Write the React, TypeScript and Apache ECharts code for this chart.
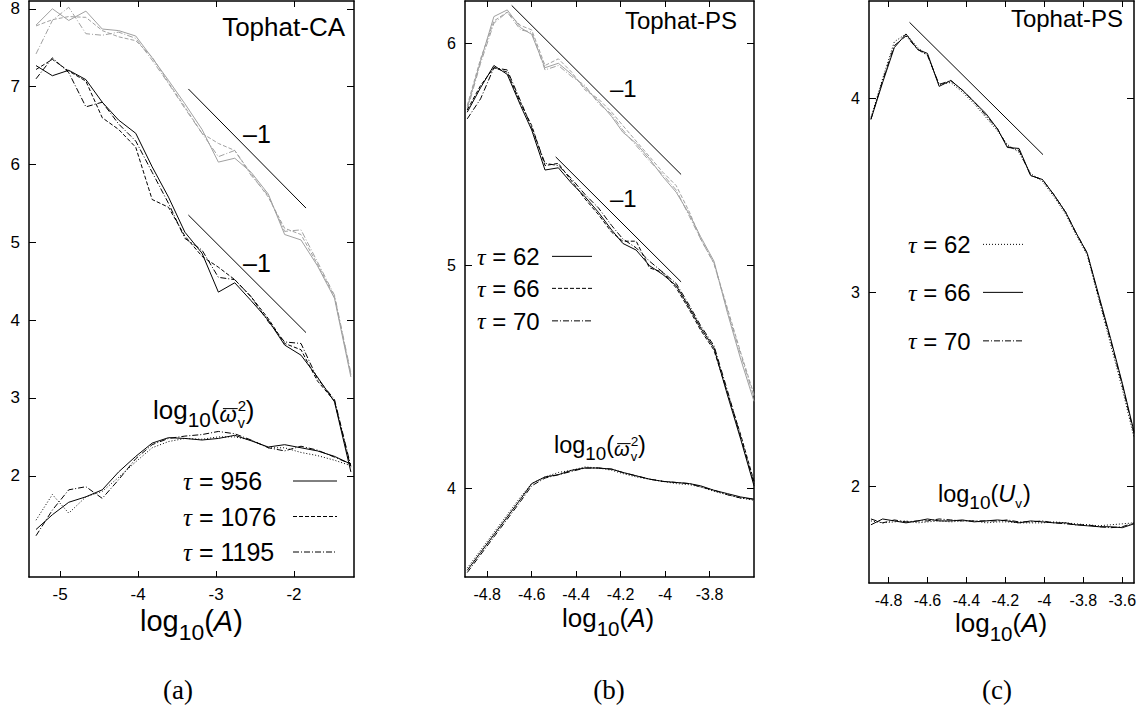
import React, { useEffect, useRef } from "react";
import * as echarts from "echarts";

// ---------------- data ----------------
// Panel (a): Tophat-CA
const X_A = [-5.31, -5.10, -4.89, -4.67, -4.46, -4.25, -4.03, -3.82, -3.61, -3.40, -3.18, -2.97, -2.76, -2.55, -2.33, -2.12, -1.91, -1.70, -1.48, -1.27];
const A_GRAY_956 = [7.79, 8.00, 7.85, 7.97, 7.74, 7.72, 7.65, 7.37, 7.08, 6.78, 6.45, 6.03, 6.08, 5.90, 5.62, 5.10, 5.03, 4.70, 4.28, 3.27];
const A_GRAY_1076 = [7.78, 7.86, 7.90, 7.89, 7.72, 7.64, 7.59, 7.38, 7.05, 6.74, 6.40, 6.27, 6.18, 5.88, 5.58, 5.18, 5.10, 4.72, 4.30, 3.30];
const A_GRAY_1195 = [7.42, 7.85, 8.02, 7.68, 7.66, 7.70, 7.62, 7.34, 7.04, 6.72, 6.40, 6.10, 6.18, 5.86, 5.60, 5.14, 5.16, 4.75, 4.32, 3.32];
const A_BLACK_956 = [7.27, 7.14, 7.21, 7.09, 6.80, 6.57, 6.40, 5.97, 5.58, 5.13, 4.86, 4.36, 4.48, 4.25, 4.00, 3.68, 3.55, 3.27, 2.95, 2.05];
const A_BLACK_1076 = [7.22, 7.35, 7.20, 7.07, 6.60, 6.45, 6.22, 5.55, 5.45, 5.08, 4.82, 4.68, 4.52, 4.30, 4.02, 3.70, 3.62, 3.22, 2.96, 2.10];
const A_BLACK_1195 = [7.10, 7.37, 7.18, 6.74, 6.80, 6.52, 6.30, 5.90, 5.50, 5.05, 4.90, 4.55, 4.52, 4.30, 3.98, 3.72, 3.70, 3.25, 2.98, 2.12];
const A_OMEGA_956 = [1.31, 1.50, 1.66, 1.73, 1.82, 2.05, 2.25, 2.42, 2.49, 2.48, 2.46, 2.48, 2.52, 2.45, 2.37, 2.40, 2.36, 2.32, 2.25, 2.15];
const A_OMEGA_1076 = [1.43, 1.76, 1.52, 1.73, 1.80, 1.98, 2.18, 2.36, 2.44, 2.48, 2.47, 2.50, 2.50, 2.46, 2.36, 2.36, 2.30, 2.26, 2.20, 2.13];
const A_OMEGA_1195 = [1.23, 1.56, 1.82, 1.86, 1.71, 1.95, 2.22, 2.40, 2.48, 2.51, 2.53, 2.57, 2.54, 2.46, 2.36, 2.32, 2.38, 2.33, 2.24, 2.15];
const A_SLOPE_UPPER = [[-3.355, 6.97], [-1.846, 5.44]];
const A_SLOPE_LOWER = [[-3.355, 5.35], [-1.846, 3.84]];
const A_X_TICKS = [-5, -4, -3, -2];
const A_Y_TICKS = [2, 3, 4, 5, 6, 7, 8];
const A_TAUS = ["956", "1076", "1195"];

// Panel (b): Tophat-PS
const X_B = [-4.89, -4.83, -4.77, -4.71, -4.65, -4.60, -4.54, -4.48, -4.42, -4.36, -4.30, -4.24, -4.19, -4.13, -4.07, -4.01, -3.95, -3.89, -3.84, -3.78, -3.72, -3.66, -3.60];
const B_GRAY_62 = [5.71, 5.92, 6.12, 6.15, 6.07, 6.04, 5.89, 5.91, 5.86, 5.80, 5.74, 5.67, 5.60, 5.55, 5.48, 5.40, 5.33, 5.23, 5.13, 5.02, 4.79, 4.58, 4.39];
const B_GRAY_66 = [5.72, 5.93, 6.10, 6.14, 6.08, 6.06, 5.90, 5.93, 5.87, 5.79, 5.75, 5.69, 5.63, 5.56, 5.49, 5.42, 5.36, 5.24, 5.12, 5.01, 4.81, 4.61, 4.42];
const B_GRAY_70 = [5.70, 5.91, 6.09, 6.14, 6.06, 6.05, 5.88, 5.90, 5.85, 5.81, 5.73, 5.68, 5.61, 5.54, 5.47, 5.41, 5.34, 5.22, 5.12, 5.01, 4.80, 4.60, 4.41];
const B_BLACK_62 = [5.69, 5.80, 5.90, 5.86, 5.72, 5.61, 5.43, 5.44, 5.37, 5.31, 5.24, 5.16, 5.10, 5.07, 5.00, 4.96, 4.91, 4.81, 4.72, 4.63, 4.42, 4.22, 4.01];
const B_BLACK_66 = [5.70, 5.81, 5.89, 5.87, 5.73, 5.63, 5.45, 5.46, 5.38, 5.30, 5.23, 5.15, 5.11, 5.11, 4.99, 4.97, 4.90, 4.80, 4.71, 4.62, 4.43, 4.24, 4.03];
const B_BLACK_70 = [5.66, 5.75, 5.89, 5.88, 5.74, 5.62, 5.46, 5.45, 5.39, 5.32, 5.26, 5.18, 5.12, 5.08, 5.02, 4.97, 4.92, 4.82, 4.73, 4.64, 4.44, 4.23, 4.02];
const B_OMEGA_62 = [3.63, 3.71, 3.79, 3.87, 3.95, 4.02, 4.05, 4.06, 4.08, 4.09, 4.09, 4.085, 4.07, 4.055, 4.04, 4.03, 4.025, 4.02, 4.01, 3.99, 3.975, 3.96, 3.95];
const B_OMEGA_66 = [3.64, 3.72, 3.80, 3.88, 3.96, 4.02, 4.05, 4.07, 4.08, 4.095, 4.09, 4.08, 4.065, 4.05, 4.04, 4.03, 4.02, 4.015, 4.005, 3.985, 3.97, 3.955, 3.945];
const B_OMEGA_70 = [3.62, 3.70, 3.78, 3.86, 3.94, 4.01, 4.045, 4.06, 4.075, 4.09, 4.09, 4.085, 4.07, 4.055, 4.04, 4.03, 4.025, 4.02, 4.005, 3.99, 3.97, 3.955, 3.95];
const B_SLOPE_UPPER = [[-4.69, 6.17], [-3.928, 5.41]];
const B_SLOPE_LOWER = [[-4.492, 5.489], [-3.928, 4.927]];
const B_X_TICKS = [-4.8, -4.6, -4.4, -4.2, -4, -3.8];
const B_Y_TICKS = [4, 5, 6];
const B_TAUS = ["62", "66", "70"];

// Panel (c): Tophat-PS
const X_C = [-4.89, -4.83, -4.77, -4.71, -4.65, -4.60, -4.54, -4.48, -4.42, -4.36, -4.30, -4.24, -4.19, -4.13, -4.07, -4.01, -3.95, -3.89, -3.84, -3.78, -3.72, -3.66, -3.60, -3.54];
const C_MAIN_62 = [3.90, 4.10, 4.29, 4.33, 4.26, 4.22, 4.07, 4.08, 4.03, 3.97, 3.90, 3.83, 3.76, 3.72, 3.61, 3.57, 3.49, 3.40, 3.30, 3.19, 2.96, 2.73, 2.50, 2.25];
const C_MAIN_66 = [3.89, 4.08, 4.26, 4.33, 4.25, 4.23, 4.06, 4.09, 4.04, 3.98, 3.92, 3.84, 3.745, 3.74, 3.60, 3.58, 3.50, 3.41, 3.31, 3.20, 2.98, 2.76, 2.53, 2.28];
const C_MAIN_70 = [3.89, 4.09, 4.27, 4.32, 4.25, 4.22, 4.07, 4.09, 4.04, 3.98, 3.91, 3.84, 3.75, 3.73, 3.60, 3.58, 3.50, 3.41, 3.31, 3.20, 2.97, 2.75, 2.52, 2.27];
const C_U_62 = [1.82, 1.81, 1.815, 1.82, 1.81, 1.815, 1.82, 1.815, 1.82, 1.82, 1.81, 1.815, 1.815, 1.81, 1.81, 1.81, 1.815, 1.81, 1.805, 1.80, 1.795, 1.80, 1.805, 1.81];
const C_U_66 = [1.80, 1.83, 1.82, 1.81, 1.82, 1.83, 1.82, 1.82, 1.825, 1.815, 1.82, 1.825, 1.82, 1.81, 1.82, 1.815, 1.81, 1.81, 1.80, 1.795, 1.79, 1.79, 1.785, 1.805];
const C_U_70 = [1.83, 1.81, 1.825, 1.815, 1.82, 1.82, 1.83, 1.825, 1.82, 1.82, 1.82, 1.82, 1.825, 1.815, 1.815, 1.82, 1.81, 1.805, 1.80, 1.80, 1.79, 1.785, 1.79, 1.81];
const C_SLOPE = [[-4.692, 4.39], [-4.007, 3.708]];
const C_X_TICKS = [-4.8, -4.6, -4.4, -4.2, -4, -3.8, -3.6];
const C_Y_TICKS = [2, 3, 4];
const C_TAUS = ["62", "66", "70"];

// ---------------- styles ----------------
const SANS = '"Liberation Sans", Arial, Helvetica, sans-serif';
const SERIF = '"Liberation Serif", "DejaVu Serif", "Times New Roman", serif';
const GRAY = "#a0a0a0";
const BLACK = "#000000";
const SOLID: any = "solid";
const DASH = [4, 2];
const DASHDOT = [6, 2, 1, 2];
const DOT = [1, 2];

const PANELS = [
  { grid: { left: 29, top: 1, width: 325, height: 576 }, xMin: -5.4, xMax: -1.23, yMin: 0.7, yMax: 8.1, xTicks: A_X_TICKS, yTicks: A_Y_TICKS, fs: 17 },
  { grid: { left: 465, top: 1, width: 289, height: 576 }, xMin: -4.9, xMax: -3.6, yMin: 3.6, yMax: 6.19, xTicks: B_X_TICKS, yTicks: B_Y_TICKS, fs: 16 },
  { grid: { left: 869, top: 1, width: 265, height: 582 }, xMin: -4.9, xMax: -3.54, yMin: 1.5, yMax: 4.5, xTicks: C_X_TICKS, yTicks: C_Y_TICKS, fs: 16 },
];

// ---------------- helpers ----------------
let measureCtx: CanvasRenderingContext2D | null = null;
function textWidth(t: string, size: number, italic: boolean, family: string) {
  if (!measureCtx && typeof document !== "undefined") {
    measureCtx = document.createElement("canvas").getContext("2d");
  }
  if (!measureCtx) return t.length * size * 0.55;
  measureCtx.font = `${italic ? "italic " : ""}${size}px ${family}`;
  return measureCtx.measureText(t).width;
}

type Piece = { t: string; size: number; rise?: number; italic?: boolean; family?: string; advance?: boolean; overline?: number; dx?: number };

function textEl(t: string, x: number, baseline: number, size: number, opts: { italic?: boolean; family?: string; align?: string } = {}) {
  const fam = opts.family ?? SANS;
  const k = fam === SERIF ? 0.3375 : 0.3465;
  const align = opts.align ?? "left";
  return {
    type: "text",
    silent: true,
    x,
    y: baseline - k * size,
    style: {
      text: t,
      fill: BLACK,
      fontSize: size,
      fontFamily: fam,
      fontStyle: opts.italic ? "italic" : "normal",
      textAlign: align,
      textVerticalAlign: "middle",
      align,
      verticalAlign: "middle",
    },
  };
}

function mathLabel(x0: number, baseline: number, pieces: Piece[]) {
  const out: any[] = [];
  let x = x0;
  for (const p of pieces) {
    const fam = p.family ?? SANS;
    const w = textWidth(p.t, p.size, !!p.italic, fam);
    const px = x + (p.dx ?? 0);
    out.push(textEl(p.t, px, baseline - (p.rise ?? 0), p.size, { italic: p.italic, family: fam }));
    if (p.overline !== undefined) {
      out.push({
        type: "line",
        silent: true,
        shape: { x1: px + w * 0.2, y1: baseline - p.overline, x2: px + w + 1, y2: baseline - p.overline },
        style: { stroke: BLACK, lineWidth: 1 },
      });
    }
    if (p.advance !== false) x = px + w;
  }
  return out;
}

function legendBlock(x: number, lineX1: number, lineX2: number, baselines: number[], taus: string[], dashes: any[], size: number) {
  const out: any[] = [];
  taus.forEach((tau, i) => {
    out.push(
      ...mathLabel(x, baselines[i], [
        { t: "τ", size, italic: true, family: SERIF },
        { t: " = " + tau, size },
      ])
    );
    const y = baselines[i] - 0.36 * size;
    out.push({
      type: "line",
      silent: true,
      shape: { x1: lineX1, y1: y, x2: lineX2, y2: y },
      style: { stroke: BLACK, lineWidth: 1, lineDash: dashes[i] === SOLID ? null : dashes[i] },
    });
  });
  return out;
}

function series(panel: number, xs: number[], ys: number[], color: string, dash: any, name: string) {
  return {
    type: "line",
    name,
    xAxisIndex: panel * 2,
    yAxisIndex: panel * 2,
    data: xs.map((x, i) => [x, ys[i]]),
    symbol: "none",
    silent: true,
    clip: true,
    lineStyle: { color, width: 1, type: dash },
  };
}

function slope(panel: number, pts: number[][], name: string) {
  return {
    type: "line",
    name,
    xAxisIndex: panel * 2,
    yAxisIndex: panel * 2,
    data: pts,
    symbol: "none",
    silent: true,
    lineStyle: { color: BLACK, width: 1, type: "solid" },
  };
}

function buildOption() {
  const axisLine = { show: true, onZero: false, lineStyle: { color: BLACK, width: 1.5 } };
  const xAxes: any[] = [];
  const yAxes: any[] = [];
  PANELS.forEach((p, i) => {
    ["bottom", "top"].forEach((pos) => {
      xAxes.push({
        type: "value",
        gridIndex: i,
        position: pos,
        min: p.xMin,
        max: p.xMax,
        axisLine,
        axisTick: { show: true, inside: true, length: 6, customValues: p.xTicks, lineStyle: { color: BLACK, width: 1 } },
        axisLabel: {
          show: pos === "bottom",
          customValues: p.xTicks,
          formatter: (v: number) => String(v),
          color: BLACK,
          fontSize: p.fs,
          fontFamily: SANS,
          margin: 9,
        },
        splitLine: { show: false },
      });
    });
    ["left", "right"].forEach((pos) => {
      yAxes.push({
        type: "value",
        gridIndex: i,
        position: pos,
        min: p.yMin,
        max: p.yMax,
        axisLine,
        axisTick: { show: true, inside: true, length: 7, customValues: p.yTicks, lineStyle: { color: BLACK, width: 1 } },
        axisLabel: {
          show: pos === "left",
          customValues: p.yTicks,
          formatter: (v: number) => String(v),
          color: BLACK,
          fontSize: p.fs,
          fontFamily: SANS,
          margin: 9,
        },
        splitLine: { show: false },
      });
    });
  });

  const allSeries: any[] = [
    // panel a
    series(0, X_A, A_GRAY_956, GRAY, SOLID, "a gray τ=956"),
    series(0, X_A, A_GRAY_1076, GRAY, DASH, "a gray τ=1076"),
    series(0, X_A, A_GRAY_1195, GRAY, DASHDOT, "a gray τ=1195"),
    series(0, X_A, A_BLACK_956, BLACK, SOLID, "a black τ=956"),
    series(0, X_A, A_BLACK_1076, BLACK, DASH, "a black τ=1076"),
    series(0, X_A, A_BLACK_1195, BLACK, DASHDOT, "a black τ=1195"),
    series(0, X_A, A_OMEGA_956, BLACK, SOLID, "a omega τ=956"),
    series(0, X_A, A_OMEGA_1076, BLACK, DOT, "a omega τ=1076"),
    series(0, X_A, A_OMEGA_1195, BLACK, DASHDOT, "a omega τ=1195"),
    slope(0, A_SLOPE_UPPER, "a slope upper"),
    slope(0, A_SLOPE_LOWER, "a slope lower"),
    // panel b
    series(1, X_B, B_GRAY_62, GRAY, SOLID, "b gray τ=62"),
    series(1, X_B, B_GRAY_66, GRAY, DASH, "b gray τ=66"),
    series(1, X_B, B_GRAY_70, GRAY, DASHDOT, "b gray τ=70"),
    series(1, X_B, B_BLACK_62, BLACK, SOLID, "b black τ=62"),
    series(1, X_B, B_BLACK_66, BLACK, DASH, "b black τ=66"),
    series(1, X_B, B_BLACK_70, BLACK, DASHDOT, "b black τ=70"),
    series(1, X_B, B_OMEGA_62, BLACK, SOLID, "b omega τ=62"),
    series(1, X_B, B_OMEGA_66, BLACK, DOT, "b omega τ=66"),
    series(1, X_B, B_OMEGA_70, BLACK, DASHDOT, "b omega τ=70"),
    slope(1, B_SLOPE_UPPER, "b slope upper"),
    slope(1, B_SLOPE_LOWER, "b slope lower"),
    // panel c
    series(2, X_C, C_MAIN_62, BLACK, DOT, "c τ=62"),
    series(2, X_C, C_MAIN_66, BLACK, SOLID, "c τ=66"),
    series(2, X_C, C_MAIN_70, BLACK, DASHDOT, "c τ=70"),
    series(2, X_C, C_U_62, BLACK, DOT, "c U τ=62"),
    series(2, X_C, C_U_66, BLACK, SOLID, "c U τ=66"),
    series(2, X_C, C_U_70, BLACK, DASHDOT, "c U τ=70"),
    slope(2, C_SLOPE, "c slope"),
  ];

  const omegaLabel = (x: number, b: number, s: number) =>
    mathLabel(x, b, [
      { t: "log", size: s },
      { t: "10", size: s * 0.8, rise: -s * 0.3 },
      { t: "(", size: s },
      { t: "ω", size: s * 0.85, italic: true, rise: -s * 0.12, overline: s * 0.4 },
      { t: "2", size: s * 0.58, rise: s * 0.3, advance: false, dx: 1 },
      { t: "v", size: s * 0.55, rise: -s * 0.34, dx: 1 },
      { t: ")", size: s, dx: 1 },
    ]);

  const axisTitle = (x: number, b: number, s: number) =>
    mathLabel(x, b, [
      { t: "log", size: s },
      { t: "10", size: s * 0.79, rise: -s * 0.32 },
      { t: "(", size: s },
      { t: "A", size: s, italic: true },
      { t: ")", size: s },
    ]);

  const graphics: any[] = [
    // titles
    textEl("Tophat-CA", 345, 36, 26, { align: "right" }),
    textEl("Tophat-PS", 737, 29, 24, { align: "right" }),
    textEl("Tophat-PS", 1123, 27, 24, { align: "right" }),
    // slope annotations
    textEl("–1", 243, 143, 25),
    textEl("–1", 243, 272, 25),
    textEl("–1", 610, 97, 24),
    textEl("–1", 610, 207, 24),
    // curve labels
    ...omegaLabel(153, 419, 26),
    ...omegaLabel(554, 453, 23.5),
    ...mathLabel(938, 502, [
      { t: "log", size: 23.5 },
      { t: "10", size: 19, rise: -7.5 },
      { t: "(", size: 23.5 },
      { t: "U", size: 23.5, italic: true },
      { t: "v", size: 13.5, rise: -6 },
      { t: ")", size: 23.5, dx: 1 },
    ]),
    // legends
    ...legendBlock(183, 293, 337, [490, 525.5, 561], A_TAUS, [SOLID, DASH, DASHDOT], 25),
    ...legendBlock(477, 552, 592, [265, 297, 329.5], B_TAUS, [SOLID, DASH, DASHDOT], 24),
    ...legendBlock(908, 983, 1023, [253, 301, 349.5], C_TAUS, [DOT, SOLID, DASHDOT], 24),
    // axis titles
    ...axisTitle(140, 631, 29),
    ...axisTitle(562, 627, 26),
    ...axisTitle(955, 632, 26),
    // subfigure labels
    textEl("(a)", 178, 699, 27, { align: "center", family: SERIF }),
    textEl("(b)", 609, 699, 27, { align: "center", family: SERIF }),
    textEl("(c)", 997, 699, 27, { align: "center", family: SERIF }),
  ];

  return {
    animation: false,
    backgroundColor: "#ffffff",
    textStyle: { fontFamily: SANS },
    grid: PANELS.map((p) => ({ ...p.grid, containLabel: false })),
    xAxis: xAxes,
    yAxis: yAxes,
    series: allSeries,
    graphic: { elements: graphics },
  };
}

export default function App() {
  const ref = useRef<HTMLDivElement>(null);
  useEffect(() => {
    if (!ref.current) return;
    const chart = echarts.init(ref.current, undefined, { renderer: "svg" });
    chart.setOption(buildOption() as any);
    return () => {
      chart.dispose();
    };
  }, []);
  return (
    <div
      ref={ref}
      style={{ position: "absolute", left: 0, top: 0, width: 1145, height: 711, background: "#fff" }}
    />
  );
}
